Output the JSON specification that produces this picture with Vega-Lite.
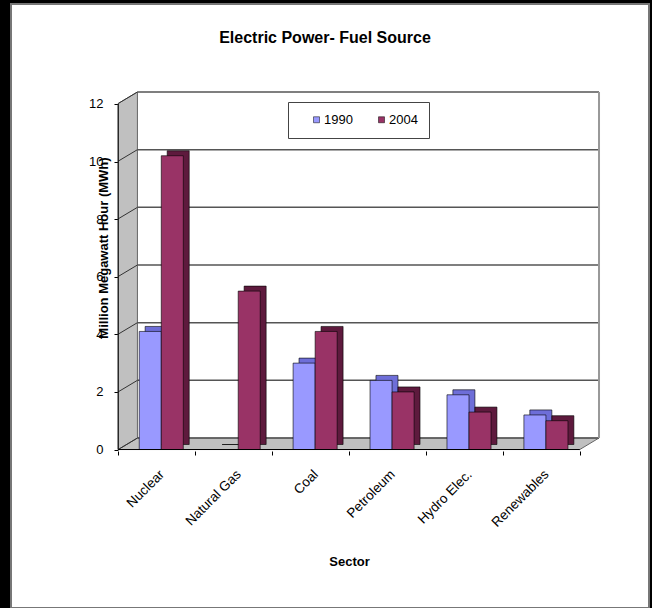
{
  "$schema": "https://vega.github.io/schema/vega-lite/v6.json",
  "width": 638,
  "height": 604,
  "autosize": {"type": "none"},
  "padding": {"left": 11, "top": 4, "right": 3, "bottom": 0},
  "background": "#000000",
  "config": {
    "font": "Liberation Sans",
    "view": {"fill": "#ffffff", "stroke": "#777777", "strokeWidth": 2}
  },
  "title": {
    "text": "Electric Power- Fuel Source",
    "fontSize": 16,
    "fontWeight": "bold",
    "color": "#000000",
    "anchor": "middle",
    "frame": "group",
    "baseline": "middle",
    "offset": -50,
    "dx": -5
  },
  "datasets": {
    "power": [
      {"sector": "Nuclear", "year": "1990", "value": 4.1},
      {"sector": "Nuclear", "year": "2004", "value": 10.2},
      {"sector": "Natural Gas", "year": "1990", "value": 0},
      {"sector": "Natural Gas", "year": "2004", "value": 5.5},
      {"sector": "Coal", "year": "1990", "value": 3.0},
      {"sector": "Coal", "year": "2004", "value": 4.1},
      {"sector": "Petroleum", "year": "1990", "value": 2.4},
      {"sector": "Petroleum", "year": "2004", "value": 2.0},
      {"sector": "Hydro Elec.", "year": "1990", "value": 1.9},
      {"sector": "Hydro Elec.", "year": "2004", "value": 1.3},
      {"sector": "Renewables", "year": "1990", "value": 1.2},
      {"sector": "Renewables", "year": "2004", "value": 1.0}
    ],
    "levels": [{"v": 0}, {"v": 2}, {"v": 4}, {"v": 6}, {"v": 8}, {"v": 10}, {"v": 12}],
    "floor": [
      {"pos": 0, "lo": -0.4, "hi": -0.4},
      {"pos": 0.25, "lo": -0.4, "hi": 0},
      {"pos": 6, "lo": -0.4, "hi": 0},
      {"pos": 6.25, "lo": 0, "hi": 0}
    ],
    "wall": [
      {"pos": 0, "lo": -0.4, "hi": 11.6},
      {"pos": 0.25, "lo": 0, "hi": 12}
    ],
    "one": [{}]
  },
  "layer": [
    {
      "data": {"name": "floor"},
      "mark": {"type": "area", "fill": "#C0C0C0", "stroke": "#666666", "strokeWidth": 1},
      "encoding": {
        "x": {"field": "pos", "type": "quantitative", "scale": {"domain": [-1.3935, 6.8998], "nice": false, "zero": false}, "axis": null},
        "y": {"field": "lo", "type": "quantitative", "scale": {"domain": [-5.896, 15.052], "nice": false, "zero": false}, "axis": null},
        "y2": {"field": "hi"}
      }
    },
    {
      "data": {"name": "wall"},
      "mark": {"type": "area", "fill": "#C0C0C0", "stroke": "#666666", "strokeWidth": 1},
      "encoding": {
        "x": {"field": "pos", "type": "quantitative", "scale": {"domain": [-1.3935, 6.8998], "nice": false, "zero": false}, "axis": null},
        "y": {"field": "lo", "type": "quantitative", "scale": {"domain": [-5.896, 15.052], "nice": false, "zero": false}, "axis": null},
        "y2": {"field": "hi"}
      }
    },
    {
      "data": {"name": "levels"},
      "mark": {"type": "rule", "color": "#555555", "strokeWidth": 1.5},
      "encoding": {
        "x": {"datum": 0.25, "type": "quantitative", "scale": {"domain": [-1.3935, 6.8998], "nice": false, "zero": false}, "axis": null},
        "x2": {"datum": 6.25},
        "y": {"field": "v", "type": "quantitative", "scale": {"domain": [-5.896, 15.052], "nice": false, "zero": false}, "axis": null}
      }
    },
    {
      "data": {"name": "levels"},
      "mark": {"type": "rule", "color": "#333333", "strokeWidth": 1, "yOffset": 11.5},
      "encoding": {
        "x": {"datum": 0, "type": "quantitative", "scale": {"domain": [-1.3935, 6.8998], "nice": false, "zero": false}, "axis": null},
        "x2": {"datum": 0.25},
        "y": {"field": "v", "type": "quantitative", "scale": {"domain": [-5.896, 15.052], "nice": false, "zero": false}, "axis": null},
        "y2": {"field": "v"}
      }
    },
    {
      "data": {"name": "one"},
      "mark": {"type": "rule", "color": "#999999", "strokeWidth": 2},
      "encoding": {
        "x": {"datum": 6.25, "type": "quantitative", "scale": {"domain": [-1.3935, 6.8998], "nice": false, "zero": false}, "axis": null},
        "y": {"datum": 0, "type": "quantitative", "scale": {"domain": [-5.896, 15.052], "nice": false, "zero": false}, "axis": null},
        "y2": {"datum": 12}
      }
    },
    {
      "data": {"name": "power"},
      "mark": {"type": "bar", "stroke": "#000000", "strokeWidth": 0.6, "yOffset": -5, "y2Offset": -5},
      "encoding": {
        "x": {
          "field": "sector", "type": "nominal",
          "sort": ["Nuclear", "Natural Gas", "Coal", "Petroleum", "Hydro Elec.", "Renewables"],
          "scale": {"range": [107.2, 568.8], "paddingInner": 0, "paddingOuter": 0},
          "axis": null
        },
        "xOffset": {"field": "year", "type": "nominal", "scale": {"paddingInner": 0, "paddingOuter": 0.746, "align": 0.82}},
        "y": {"field": "value", "type": "quantitative", "scale": {"domain": [-5.503, 15.469], "nice": false, "zero": false}, "axis": null},
        "y2": {"datum": 0},
        "color": {"condition": {"test": "datum.year === '1990'", "value": "#6E6ED8"}, "value": "#5E1A3D"}
      }
    },
    {
      "data": {"name": "power"},
      "mark": {"type": "bar", "stroke": "#000000", "strokeWidth": 0.6},
      "encoding": {
        "x": {
          "field": "sector", "type": "nominal",
          "sort": ["Nuclear", "Natural Gas", "Coal", "Petroleum", "Hydro Elec.", "Renewables"],
          "scale": {"range": [107.2, 568.8], "paddingInner": 0, "paddingOuter": 0},
          "axis": {
            "orient": "bottom", "offset": -157, "domain": false, "grid": false,
            "tickBand": "extent", "tickSize": 4, "tickColor": "#000000",
            "labelAngle": -45, "labelAlign": "right", "labelBaseline": "top",
            "labelFontSize": 13.5, "labelPadding": 12, "labelColor": "#000000",
            "title": "Sector", "titleFontSize": 13, "titleFontWeight": "bold", "titleColor": "#000000",
            "titleX": 338, "titleY": 110, "titleBaseline": "middle", "titleAlign": "center"
          }
        },
        "xOffset": {"field": "year", "type": "nominal", "scale": {"paddingInner": 0, "paddingOuter": 0.746, "align": 0.64}},
        "y": {
          "field": "value", "type": "quantitative",
          "scale": {"domain": [-5.503, 15.469], "nice": false, "zero": false},
          "axis": {
            "orient": "left", "offset": -107, "domain": false, "grid": false,
            "values": [0, 2, 4, 6, 8, 10, 12],
            "tickSize": 4, "tickColor": "#000000",
            "labelFontSize": 13, "labelPadding": 11, "labelColor": "#000000",
            "title": "Million Megawatt Hour (MWh)", "titleFontSize": 13, "titleFontWeight": "bold", "titleColor": "#000000",
            "titleAngle": 270, "titleX": -15, "titleY": 243.5, "titleBaseline": "middle", "titleAlign": "center"
          }
        },
        "y2": {"datum": 0},
        "color": {
          "field": "year", "type": "nominal",
          "scale": {"domain": ["1990", "2004"], "range": ["#9999FF", "#993366"]},
          "legend": {
            "orient": "none", "legendX": 277, "legendY": 98, "direction": "horizontal",
            "title": null, "strokeColor": "#444444", "fillColor": "#ffffff", "padding": 11,
            "symbolType": "square", "symbolSize": 36, "symbolStrokeColor": "#000000", "symbolStrokeWidth": 0.5,
            "labelFontSize": 13, "labelOffset": 1, "labelColor": "#000000",
            "columnPadding": 11, "symbolOffset": 11
          }
        }
      }
    },
    {
      "data": {"name": "one"},
      "mark": {"type": "rule", "color": "#000000", "strokeWidth": 1},
      "encoding": {
        "x": {"datum": 0, "type": "quantitative", "scale": {"domain": [-1.3935, 6.8998], "nice": false, "zero": false}, "axis": null},
        "y": {"datum": 0, "type": "quantitative", "scale": {"domain": [-5.503, 15.469], "nice": false, "zero": false}, "axis": null},
        "y2": {"datum": 12}
      }
    },
    {
      "data": {"name": "one"},
      "mark": {"type": "rule", "color": "#000000", "strokeWidth": 1},
      "encoding": {
        "x": {"datum": 0, "type": "quantitative", "scale": {"domain": [-1.3935, 6.8998], "nice": false, "zero": false}, "axis": null},
        "x2": {"datum": 6},
        "y": {"datum": 0, "type": "quantitative", "scale": {"domain": [-5.503, 15.469], "nice": false, "zero": false}, "axis": null}
      }
    }
  ],
  "resolve": {"scale": {"x": "independent", "y": "independent", "xOffset": "independent"}}
}
